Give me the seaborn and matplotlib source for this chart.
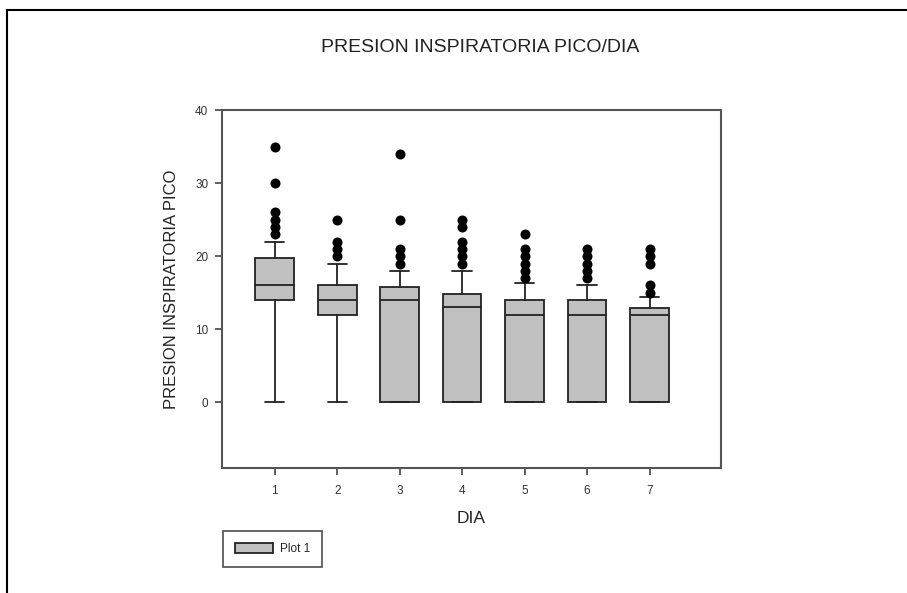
import matplotlib
matplotlib.use("Agg")
import matplotlib.pyplot as plt
import seaborn as sns
import pandas as pd
from matplotlib.patches import Patch, Rectangle

# box plot stats (SigmaPlot style: whiskers 10th/90th)
days = [1, 2, 3, 4, 5, 6, 7]
q1 = [14, 12, 0, 0, 0, 0, 0]
medians = [16, 14, 14, 13, 12, 12, 12]
q3 = [19.8, 16, 15.8, 14.9, 14, 14, 12.9]
whis_lo = [0, 0, 0, 0, 0, 0, 0]
whis_hi = [22, 19, 18, 18, 16.4, 16, 14.4]
outliers = [
    [35, 30, 26, 25, 24, 23],
    [25, 22, 21, 20],
    [34, 25, 21, 20, 19],
    [25, 24, 22, 21, 20, 19],
    [23, 21, 20, 19, 18, 17],
    [21, 20, 19, 18, 17],
    [21, 20, 19, 16, 15],
]

sns.set_style("white")
plt.rcParams["font.family"] = ["Liberation Sans", "DejaVu Sans"]

fig = plt.figure(figsize=(9.07, 5.93), dpi=100)
ax = fig.add_axes([0.2451, 0.2103, 0.5495, 0.6042])

stats = []
for i, d in enumerate(days):
    stats.append(dict(med=medians[i], q1=q1[i], q3=q3[i],
                      whislo=whis_lo[i], whishi=whis_hi[i], fliers=[]))

ax.bxp(stats, positions=days, widths=0.62, capwidths=0.31, patch_artist=True,
       showfliers=False,
       boxprops=dict(facecolor="#c0c0c0", edgecolor="#222222", linewidth=1.3),
       medianprops=dict(color="#222222", linewidth=1.3),
       whiskerprops=dict(color="#222222", linewidth=1.3),
       capprops=dict(color="#222222", linewidth=1.3))

out_df = pd.DataFrame([(d, v) for d, vals in zip(days, outliers) for v in vals],
                      columns=["DIA", "valor"])
sns.scatterplot(data=out_df, x="DIA", y="valor", color="black", s=52,
                edgecolor="black", linewidth=0, ax=ax, zorder=5)

ax.set_xlim(0.16, 8.14)
ax.set_ylim(-9, 40)
ax.set_xticks(days)
ax.set_xticklabels([str(d) for d in days])
ax.set_yticks([0, 10, 20, 30, 40])
ax.tick_params(axis="both", direction="out", length=5, width=1.2,
               color="#444444", labelsize=8.5, labelcolor="#333333",
               bottom=True, left=True)
ax.tick_params(axis="x", pad=7)
ax.tick_params(axis="y", pad=5)
for s in ax.spines.values():
    s.set_color("#555555")
    s.set_linewidth(1.5)

ax.set_xlabel("DIA", fontsize=12.5, color="#222222", labelpad=10)
ax.set_ylabel("PRESION INSPIRATORIA PICO", fontsize=12, color="#222222",
              labelpad=12)
fig.text(480 / 907, 1 - 47 / 593, "PRESION INSPIRATORIA PICO/DIA",
         ha="center", va="center", fontsize=14, color="#222222")

handle = Patch(facecolor="#c0c0c0", edgecolor="#222222", linewidth=1.3)
leg = fig.legend([handle], ["Plot 1"], loc="upper left",
                 bbox_to_anchor=(223 / 907, 1 - 531 / 593),
                 frameon=True, fancybox=False, fontsize=8.5,
                 handlelength=3.2, handleheight=0.9, borderpad=1.0,
                 handletextpad=0.6, borderaxespad=0)
leg.get_frame().set_edgecolor("#333333")
leg.get_frame().set_linewidth(1.3)

# page frame (cut off at right/bottom)
fig.patches.append(Rectangle((7 / 907, -0.1), 1.2, 1 - 10 / 593 + 0.1,
                             transform=fig.transFigure, fill=False,
                             edgecolor="black", linewidth=1.5))

fig.savefig("out.png", dpi=100)
